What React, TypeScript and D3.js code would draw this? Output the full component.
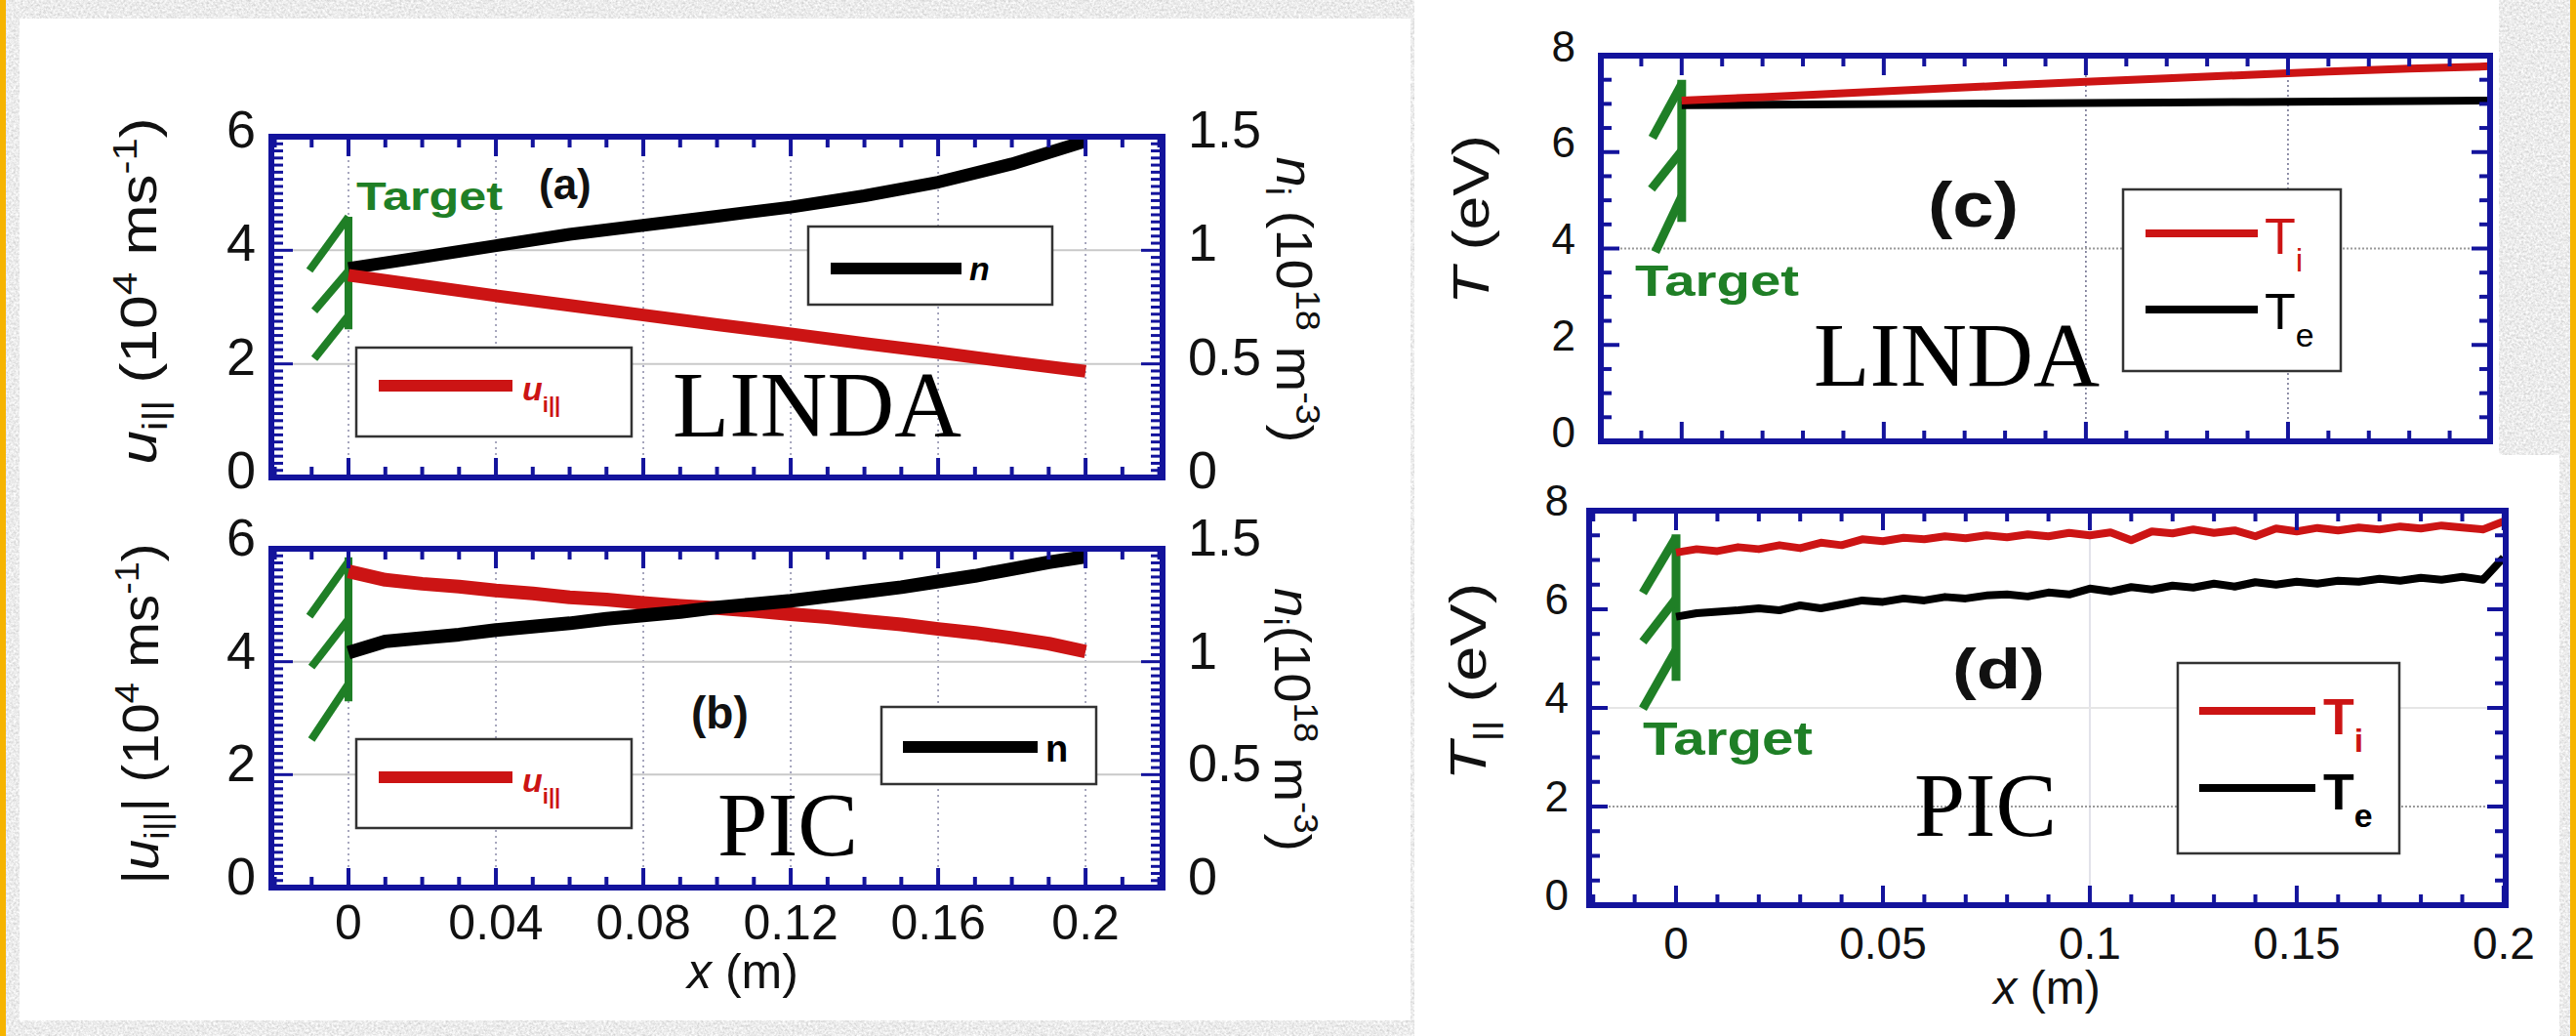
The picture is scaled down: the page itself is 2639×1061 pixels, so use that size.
import React from 'react';
import * as d3 from 'd3';

const W = 2639;
const H = 1061;

// (a) LINDA: parallel ion flow (left axis) and density (right axis)
const linX = [0, 0.02, 0.04, 0.06, 0.08, 0.1, 0.12, 0.14, 0.16, 0.18, 0.2];
const linU = [3.56, 3.38, 3.2, 3.03, 2.86, 2.69, 2.53, 2.36, 2.2, 2.03, 1.87];
const linN = [0.92, 0.97, 1.02, 1.07, 1.11, 1.15, 1.19, 1.24, 1.3, 1.38, 1.48];

// (b) PIC: flow and density
const picX = [0, 0.01, 0.02, 0.03, 0.04, 0.05, 0.06, 0.07, 0.08, 0.09, 0.1,
  0.11, 0.12, 0.13, 0.14, 0.15, 0.16, 0.17, 0.18, 0.19, 0.2];
const picU = [5.6, 5.45, 5.38, 5.33, 5.26, 5.21, 5.14, 5.1, 5.04, 4.99, 4.95,
  4.9, 4.84, 4.79, 4.72, 4.66, 4.58, 4.51, 4.42, 4.32, 4.18];
const picN = [1.04, 1.09, 1.105, 1.12, 1.14, 1.155, 1.17, 1.19, 1.205, 1.22, 1.24,
  1.255, 1.27, 1.29, 1.31, 1.33, 1.355, 1.38, 1.41, 1.44, 1.465];

// (c) LINDA temperatures
const linTi = [7.07, 7.14, 7.22, 7.3, 7.38, 7.46, 7.53, 7.6, 7.67, 7.73, 7.78];
const linTe = [6.97, 6.98, 6.99, 7.0, 7.01, 7.02, 7.03, 7.04, 7.05, 7.06, 7.07];

// (d) PIC temperatures
const picTX = [0, 0.005, 0.01, 0.015, 0.02, 0.025, 0.03, 0.035, 0.04, 0.045, 0.05,
  0.055, 0.06, 0.065, 0.07, 0.075, 0.08, 0.085, 0.09, 0.095, 0.1,
  0.105, 0.11, 0.115, 0.12, 0.125, 0.13, 0.135, 0.14, 0.145, 0.15,
  0.155, 0.16, 0.165, 0.17, 0.175, 0.18, 0.185, 0.19, 0.195, 0.2];
const picTi = [7.15, 7.22, 7.18, 7.26, 7.22, 7.3, 7.24, 7.35, 7.3, 7.42, 7.38,
  7.45, 7.42, 7.48, 7.44, 7.5, 7.46, 7.52, 7.48, 7.55, 7.5,
  7.56, 7.4, 7.58, 7.54, 7.62, 7.55, 7.6, 7.48, 7.64, 7.58,
  7.65, 7.6, 7.66, 7.62, 7.68, 7.64, 7.7, 7.66, 7.62, 7.78];
const picTe = [5.85, 5.92, 5.95, 5.98, 6.02, 5.98, 6.08, 6.02, 6.1, 6.18, 6.15,
  6.22, 6.18, 6.25, 6.22, 6.28, 6.3, 6.26, 6.34, 6.3, 6.42,
  6.36, 6.45, 6.4, 6.48, 6.44, 6.52, 6.46, 6.55, 6.5, 6.56,
  6.52, 6.58, 6.56, 6.62, 6.58, 6.64, 6.6, 6.66, 6.6, 7.05];

const leftXTicks = [0, 0.04, 0.08, 0.12, 0.16, 0.2];
const rightXTicks = [0, 0.05, 0.1, 0.15, 0.2];
const uTicks = [0, 2, 4, 6];
const nTicks = [0, 0.5, 1, 1.5];
const tTicks = [0, 2, 4, 6, 8];

const FRAME = '#13139c';
const RED = '#cc1414';
const GREEN = '#1f7f26';
const SANS = "'Liberation Sans', Arial, sans-serif";
const SERIF = "'Liberation Serif', 'Times New Roman', serif";

function Panel(p: any) {
  const { box } = p;
  const x = d3.scaleLinear().domain(p.xDomain).range([box.l, box.r]);
  const y = d3.scaleLinear().domain(p.yDomain).range([box.b, box.t]);
  const y2 = p.y2Domain ? d3.scaleLinear().domain(p.y2Domain).range([box.b, box.t]) : y;

  const near = (v: number, arr: number[]) => arr.some((m) => Math.abs(m - v) < 1e-6);
  const xMinor = d3.range(Math.ceil(p.xDomain[0] / p.xMinor - 1e-6), Math.floor(p.xDomain[1] / p.xMinor + 1e-6) + 1)
    .map((k) => k * p.xMinor);
  const yMinor = d3.range(0, Math.round(p.yDomain[1] / p.yMinor) + 1).map((k) => k * p.yMinor);

  const line = (xs: number[], ys: number[], sc: any) =>
    d3.line<number>().x((d, i) => x(xs[i])).y((d) => sc(d))(ys) as string;

  const t = p.target;
  const tx = x(0), tTop = y(t.top), tBot = y(t.bottom);

  return (
    <g>
      <defs>
        <clipPath id={p.id + '-clip'}>
          <rect x={box.l} y={box.t} width={box.r - box.l} height={box.b - box.t} />
        </clipPath>
      </defs>
      <rect x={box.l} y={box.t} width={box.r - box.l} height={box.b - box.t} fill="#fff" />
      {/* grid */}
      {p.gridX.map((g: any, i: number) => (
        <line key={'gx' + i} x1={x(g.v)} x2={x(g.v)} y1={box.t} y2={box.b} stroke={g.c} strokeWidth={g.w} strokeDasharray={g.d} />
      ))}
      {p.gridY.map((g: any, i: number) => (
        <line key={'gy' + i} x1={box.l} x2={box.r} y1={y(g.v)} y2={y(g.v)} stroke={g.c} strokeWidth={g.w} strokeDasharray={g.d} />
      ))}
      {/* target */}
      <g stroke={GREEN} strokeWidth={t.w} fill="none">
        <line x1={tx} x2={tx} y1={tTop} y2={tBot} />
        {t.hatches.map((h: any, i: number) => {
          const y0 = tTop + h.f * (tBot - tTop);
          return <line key={i} x1={tx} y1={y0} x2={tx + h.dx} y2={y0 + h.dy} />;
        })}
      </g>
      {/* series */}
      <g clipPath={`url(#${p.id}-clip)`}>
        {p.series.map((s: any, i: number) => (
          <path key={i} d={line(s.xs, s.ys, s.axis === 'R' ? y2 : y)} fill="none" stroke={s.color}
            strokeWidth={s.w} strokeLinejoin="round" strokeLinecap="butt" />
        ))}
      </g>
      {/* ticks */}
      <g stroke={FRAME}>
        {xMinor.map((v, i) => {
          const len = near(v, p.xMajor) ? p.xLen[0] : p.xLen[1];
          return (
            <g key={'xt' + i} strokeWidth={4}>
              <line x1={x(v)} x2={x(v)} y1={box.b} y2={box.b - len} />
              <line x1={x(v)} x2={x(v)} y1={box.t} y2={box.t + len} />
            </g>
          );
        })}
        {yMinor.map((v, i) => {
          const len = near(v, p.yMajor) ? p.yLen[0] : p.yLen[1];
          return (
            <g key={'yt' + i} strokeWidth={p.yTickW}>
              <line x1={box.l} x2={box.l + len} y1={y(v)} y2={y(v)} />
              <line x1={box.r} x2={box.r - len} y1={y(v)} y2={y(v)} />
            </g>
          );
        })}
      </g>
      <rect x={box.l} y={box.t} width={box.r - box.l} height={box.b - box.t} fill="none" stroke={FRAME} strokeWidth={6} />
      {/* tick labels */}
      <g fontSize={p.yFont} fill="#111" dominantBaseline="central">
        {p.yMajor.map((v: number) => (
          <text key={'yl' + v} x={p.yLabelX} y={y(v) - p.yLabelUp} textAnchor="end">{v}</text>
        ))}
        {p.y2Ticks && p.y2Ticks.map((v: number) => (
          <text key={'y2l' + v} x={p.y2LabelX} y={y2(v) - p.yLabelUp} textAnchor="start">{v}</text>
        ))}
      </g>
      {p.xLabels && (
        <g fontSize={p.xFont} fill="#111" textAnchor="middle">
          {p.xMajor.map((v: number) => (
            <text key={'xl' + v} x={x(v)} y={p.xLabelY}>{v}</text>
          ))}
        </g>
      )}
    </g>
  );
}

function Legend({ box, items }: any) {
  return (
    <g>
      <rect x={box[0]} y={box[1]} width={box[2] - box[0]} height={box[3] - box[1]} fill="#fff" stroke="#333" strokeWidth={2.5} />
      {items.map((it: any, i: number) => (
        <g key={i}>
          <line x1={it.x1} x2={it.x2} y1={it.y} y2={it.y} stroke={it.color} strokeWidth={it.w} />
          <text x={it.tx} y={it.ty} fill={it.color} fontSize={it.fs} fontWeight={it.bold ? 'bold' : 'normal'}
            fontStyle={it.italic ? 'italic' : 'normal'}>
            {it.main}
            {it.sub && <tspan fontSize={it.fs * 0.65} fontStyle="normal" dy={it.fs * 0.35}>{it.sub}</tspan>}
          </text>
        </g>
      ))}
    </g>
  );
}

function Rot({ x, y, angle, sx, fs, children }: any) {
  return (
    <text transform={`translate(${x},${y}) rotate(${angle}) scale(${sx},1)`} textAnchor="middle" fontSize={fs} fill="#111">
      {children}
    </text>
  );
}

// axis title with subscript / superscript parts, font 52
const SUB = 35;
const SD = 11;
const SU = 20;

const gridLeft = leftXTicks.map((v) => ({ v, c: '#8a8aa8', w: 1.5, d: '2 4' }));
const gridU = [2, 4].map((v) => ({ v, c: '#c9c9c9', w: 2, d: undefined }));

export default function App() {
  const boxA = { l: 278, r: 1191, t: 140, b: 489 };
  const boxB = { l: 278, r: 1191, t: 562, b: 909 };
  const boxC = { l: 1640, r: 2551, t: 57, b: 452 };
  const boxD = { l: 1628, r: 2567, t: 523, b: 927 };
  const xDomL = [-0.02093, 0.2209];
  const common = { xMinor: 0.01, xLen: [20, 11] };

  return (
    <svg width={W} height={H} style={{ position: 'absolute', left: 0, top: 0, display: 'block' }} fontFamily={SANS}>
      <defs>
        <filter id="stone" x="0" y="0" width="100%" height="100%">
          <feTurbulence type="fractalNoise" baseFrequency="0.42" numOctaves="3" seed="7" />
          <feColorMatrix type="matrix" values="0.55 0 0 0 0.56  0.55 0 0 0 0.56  0.55 0 0 0 0.56  0 0 0 0 1" />
        </filter>
      </defs>
      <rect x={0} y={0} width={W} height={H} fill="#d6d6d6" filter="url(#stone)" />
      <rect x={0} y={0} width={6} height={H} fill="#f6b400" />
      <rect x={2633} y={0} width={6} height={H} fill="#f6b400" />
      <rect x={20} y={19} width={1425} height={1026} fill="#fff" />
      <rect x={1449} y={0} width={1111} height={466} fill="#fff" />
      <rect x={1449} y={466} width={1173} height={595} fill="#fff" />

      {/* (a) */}
      <Panel id="pa" box={boxA} xDomain={xDomL} yDomain={[0, 6]} y2Domain={[0, 1.5]} {...common}
        xMajor={leftXTicks} yMajor={uTicks} yMinor={0.125} yLen={[22, 12]} yTickW={3}
        gridX={gridLeft} gridY={gridU}
        target={{ top: 4.59, bottom: 2.61, w: 8, hatches: [{ f: 0, dx: -40, dy: 55 }, { f: 0.48, dx: -35, dy: 41 }, { f: 0.88, dx: -35, dy: 44 }] }}
        series={[
          { xs: linX, ys: linN, axis: 'R', color: '#000', w: 13 },
          { xs: linX, ys: linU, axis: 'L', color: RED, w: 13 },
        ]}
        yFont={54} yLabelX={262} yLabelUp={8} y2Ticks={nTicks} y2LabelX={1217} xLabels={false} />
      <text x={552} y={204} fontSize={44} fontWeight="bold" fill="#111">(a)</text>
      <text x={365} y={215} fontSize={40} fontWeight="bold" fill={GREEN} textLength={150} lengthAdjust="spacingAndGlyphs">Target</text>
      <text x={689} y={447} fontSize={96} fontFamily={SERIF} fill="#000" textLength={296} lengthAdjust="spacingAndGlyphs">LINDA</text>
      <Legend box={[365, 356, 647, 447]} items={[
        { x1: 388, x2: 525, y: 395, color: RED, w: 12, tx: 535, ty: 410, fs: 34, bold: true, italic: true, main: 'u', sub: 'i||' },
      ]} />
      <Legend box={[828, 232, 1078, 312]} items={[
        { x1: 851, x2: 985, y: 275, color: '#000', w: 12, tx: 993, ty: 287, fs: 34, bold: true, italic: true, main: 'n' },
      ]} />
      <Rot x={160} y={298} angle={-90} sx={1.2} fs={52}>
        <tspan fontStyle="italic">u</tspan>
        <tspan fontSize={SUB} dy={SD}>i||</tspan>
        <tspan dy={-SD}> (10</tspan>
        <tspan fontSize={SUB} dy={-SU}>4</tspan>
        <tspan dy={SU}> ms</tspan>
        <tspan fontSize={SUB} dy={-SU}>-1</tspan>
        <tspan dy={SU}>)</tspan>
      </Rot>
      <Rot x={1308} y={307} angle={90} sx={1.08} fs={52}>
        <tspan fontStyle="italic">n</tspan>
        <tspan fontSize={SUB} dy={SD}>i</tspan>
        <tspan dy={-SD}> (10</tspan>
        <tspan fontSize={SUB} dy={-SU}>18</tspan>
        <tspan dy={SU}> m</tspan>
        <tspan fontSize={SUB} dy={-SU}>-3</tspan>
        <tspan dy={SU}>)</tspan>
      </Rot>

      {/* (b) */}
      <Panel id="pb" box={boxB} xDomain={xDomL} yDomain={[0, 6]} y2Domain={[0, 1.5]} {...common}
        xMajor={leftXTicks} yMajor={uTicks} yMinor={0.125} yLen={[22, 12]} yTickW={3}
        gridX={gridLeft} gridY={gridU}
        target={{ top: 5.85, bottom: 3.3, w: 8, hatches: [{ f: 0.03, dx: -40, dy: 56 }, { f: 0.43, dx: -38, dy: 49 }, { f: 0.88, dx: -38, dy: 57 }] }}
        series={[
          { xs: picX, ys: picU, axis: 'L', color: RED, w: 14 },
          { xs: picX, ys: picN, axis: 'R', color: '#000', w: 14 },
        ]}
        yFont={54} yLabelX={262} yLabelUp={12} y2Ticks={nTicks} y2LabelX={1217}
        xLabels={true} xFont={50} xLabelY={962} />
      <text x={708} y={746} fontSize={46} fontWeight="bold" fill="#111">(b)</text>
      <text x={735} y={876} fontSize={94} fontFamily={SERIF} fill="#000" textLength={144} lengthAdjust="spacingAndGlyphs">PIC</text>
      <Legend box={[365, 757, 647, 848]} items={[
        { x1: 388, x2: 525, y: 796, color: RED, w: 12, tx: 535, ty: 811, fs: 34, bold: true, italic: true, main: 'u', sub: 'i||' },
      ]} />
      <Legend box={[903, 724, 1123, 803]} items={[
        { x1: 925, x2: 1063, y: 765, color: '#000', w: 12, tx: 1071, ty: 780, fs: 38, bold: true, italic: false, main: 'n' },
      ]} />
      <text x={761} y={1012} fontSize={50} textAnchor="middle" fill="#111">
        <tspan fontStyle="italic">x</tspan> (m)
      </text>
      <Rot x={162} y={731} angle={-90} sx={1.08} fs={52}>
        <tspan>|</tspan>
        <tspan fontStyle="italic">u</tspan>
        <tspan fontSize={SUB} dy={SD}>i||</tspan>
        <tspan dy={-SD}>| (10</tspan>
        <tspan fontSize={SUB} dy={-SU}>4</tspan>
        <tspan dy={SU}> ms</tspan>
        <tspan fontSize={SUB} dy={-SU}>-1</tspan>
        <tspan dy={SU}>)</tspan>
      </Rot>
      <Rot x={1306} y={737} angle={90} sx={1.05} fs={52}>
        <tspan fontStyle="italic">n</tspan>
        <tspan fontSize={SUB} dy={SD}>i</tspan>
        <tspan dy={-SD}>(10</tspan>
        <tspan fontSize={SUB} dy={-SU}>18</tspan>
        <tspan dy={SU}> m</tspan>
        <tspan fontSize={SUB} dy={-SU}>-3</tspan>
        <tspan dy={SU}>)</tspan>
      </Rot>

      {/* (c) */}
      <Panel id="pc" box={boxC} xDomain={[-0.02, 0.2]} yDomain={[0, 8]} {...common}
        xMajor={rightXTicks} yMajor={tTicks} yMinor={0.5} yLen={[19, 11]} yTickW={4}
        gridX={[0.1, 0.15].map((v) => ({ v, c: '#6c6c8c', w: 1.5, d: '2 3' }))}
        gridY={[{ v: 4, c: '#9a9a9a', w: 2, d: '2 2' }]}
        target={{ top: 7.5, bottom: 4.55, w: 9, hatches: [{ f: 0.03, dx: -30, dy: 55 }, { f: 0.5, dx: -31, dy: 39 }, { f: 0.82, dx: -27, dy: 57 }] }}
        series={[
          { xs: linX, ys: linTe, axis: 'L', color: '#000', w: 8 },
          { xs: linX, ys: linTi, axis: 'L', color: RED, w: 8 },
        ]}
        yFont={44} yLabelX={1614} yLabelUp={10} xLabels={false} />
      <text x={1975} y={232} fontSize={64} fontWeight="bold" fill="#111" textLength={93} lengthAdjust="spacingAndGlyphs">(c)</text>
      <text x={1675} y={303} fontSize={44} fontWeight="bold" fill={GREEN} textLength={168} lengthAdjust="spacingAndGlyphs">Target</text>
      <text x={1858} y={395} fontSize={94} fontFamily={SERIF} fill="#000" textLength={293} lengthAdjust="spacingAndGlyphs">LINDA</text>
      <Legend box={[2175, 194, 2398, 380]} items={[
        { x1: 2198, x2: 2313, y: 239, color: RED, w: 8, tx: 2320, ty: 260, fs: 52, main: 'T', sub: 'i' },
        { x1: 2198, x2: 2313, y: 317, color: '#000', w: 8, tx: 2320, ty: 337, fs: 52, main: 'T', sub: 'e' },
      ]} />
      <Rot x={1525} y={225} angle={-90} sx={1.2} fs={52}>
        <tspan fontStyle="italic">T</tspan> (eV)
      </Rot>

      {/* (d) */}
      <Panel id="pd" box={boxD} xDomain={[-0.021, 0.2005]} yDomain={[0, 8]} {...common}
        xMajor={rightXTicks} yMajor={tTicks} yMinor={0.5} yLen={[19, 11]} yTickW={4}
        gridX={[{ v: 0.1, c: '#e2e2ea', w: 2, d: undefined }]}
        gridY={[{ v: 2, c: '#9a9a9a', w: 2, d: '2 2' }, { v: 4, c: '#e6e6e6', w: 2, d: undefined }]}
        target={{ top: 7.52, bottom: 4.55, w: 9, hatches: [{ f: 0.02, dx: -34, dy: 57 }, { f: 0.44, dx: -34, dy: 44 }, { f: 0.79, dx: -34, dy: 60 }] }}
        series={[
          { xs: picTX, ys: picTi, axis: 'L', color: RED, w: 8 },
          { xs: picTX, ys: picTe, axis: 'L', color: '#000', w: 8 },
        ]}
        yFont={44} yLabelX={1607} yLabelUp={11} xLabels={true} xFont={46} xLabelY={982} />
      <text x={2000} y={705} fontSize={58} fontWeight="bold" fill="#111" textLength={95} lengthAdjust="spacingAndGlyphs">(d)</text>
      <text x={1683} y={773} fontSize={48} fontWeight="bold" fill={GREEN} textLength={174} lengthAdjust="spacingAndGlyphs">Target</text>
      <text x={1961} y={856} fontSize={94} fontFamily={SERIF} fill="#000" textLength={146} lengthAdjust="spacingAndGlyphs">PIC</text>
      <Legend box={[2231, 679, 2458, 874]} items={[
        { x1: 2253, x2: 2372, y: 728, color: RED, w: 8, tx: 2380, ty: 752, fs: 52, bold: true, main: 'T', sub: 'i' },
        { x1: 2253, x2: 2372, y: 807, color: '#000', w: 8, tx: 2380, ty: 829, fs: 52, bold: true, main: 'T', sub: 'e' },
      ]} />
      <text x={2097} y={1028} fontSize={48} textAnchor="middle" fill="#111">
        <tspan fontStyle="italic">x</tspan> (m)
      </text>
      <Rot x={1522} y={698} angle={-90} sx={1.25} fs={52}>
        <tspan fontStyle="italic">T</tspan>
        <tspan fontSize={34} dy={11}>||</tspan>
        <tspan dy={-11}> (eV)</tspan>
      </Rot>
    </svg>
  );
}
